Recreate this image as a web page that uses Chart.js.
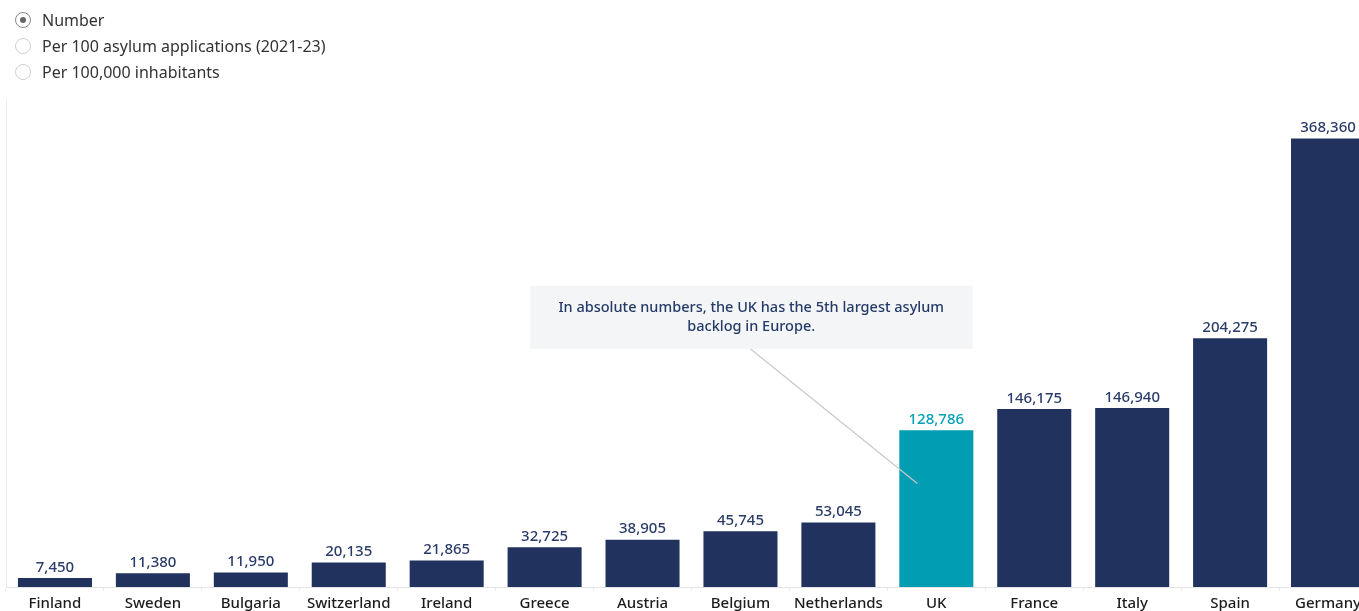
<!DOCTYPE html>
<html>
<head>
<meta charset="utf-8">
<script src="https://cdn.jsdelivr.net/npm/chart.js@4"></script>
<style>
  html, body { margin: 0; padding: 0; background: #fff; overflow: hidden; }
  #wrap { position: absolute; left: 0; top: 0; width: 1377px; height: 614px; }
  #controls { position: absolute; left: 15px; top: 7px; font-family: "Noto Sans", sans-serif; font-size: 16px; color: #333; z-index: 2; }
  .opt { height: 26px; display: flex; align-items: center; }
  .dot { width: 16px; height: 16px; border: 1px solid #cfcfcf; border-radius: 50%; box-sizing: border-box; margin-right: 11px; position: relative; }
  .dot.on { border-color: #888; }
  .dot.on::after { content: ""; position: absolute; left: 4px; top: 4px; width: 6px; height: 6px; border-radius: 50%; background: #666; }
</style>
</head>
<body>
<div id="controls">
  <div class="opt"><span class="dot on"></span>Number</div>
  <div class="opt"><span class="dot"></span>Per 100 asylum applications (2021-23)</div>
  <div class="opt"><span class="dot"></span>Per 100,000 inhabitants</div>
</div>
<div id="wrap"><canvas id="chart" width="1377" height="614"></canvas></div>
<script>
let countries = ["Finland", "Sweden", "Bulgaria", "Switzerland", "Ireland", "Greece", "Austria", "Belgium", "Netherlands", "UK", "France", "Italy", "Spain", "Germany"];
let backlog = [7450, 11380, 11950, 20135, 21865, 32725, 38905, 45745, 53045, 128786, 146175, 146940, 204275, 368360];
let note = ["In absolute numbers, the UK has the 5th largest asylum", "backlog in Europe."];

const navy = "#21325f";
const teal = "#009db3";

function barColours() {
    let arr = [];
    countries.forEach(c => {
        arr.push(c == "UK" ? teal : navy);
    });
    return arr;
}

// value labels above bars + the callout box
const extras = {
    id: "extras",
    afterDatasetsDraw(chart) {
        let ctx = chart.ctx;
        let meta = chart.getDatasetMeta(0);
        ctx.save();
        ctx.font = "500 15px 'Noto Sans', sans-serif";
        ctx.textAlign = "center";
        ctx.textBaseline = "bottom";
        meta.data.forEach((bar, i) => {
            ctx.fillStyle = countries[i] == "UK" ? "#00a0b6" : "#2a3c6a";
            ctx.fillText(backlog[i].toLocaleString("en-GB"), bar.x, bar.y - 3);
        });

        // callout
        let x = chart.scales.x;
        let y = chart.scales.y;
        let uk = countries.indexOf("UK");
        let left = x.getPixelForValue(4.85);
        let right = x.getPixelForValue(9.37);
        let top = y.getPixelForValue(247500);
        let bottom = y.getPixelForValue(195700);

        ctx.strokeStyle = "#c9c9c9";
        ctx.lineWidth = 1.2;
        ctx.beginPath();
        ctx.moveTo(x.getPixelForValue(7.1), bottom);
        ctx.lineTo(x.getPixelForValue(uk) - 19, y.getPixelForValue(85000));
        ctx.stroke();

        ctx.fillStyle = "#f4f5f6";
        ctx.fillRect(left, top, right - left, bottom - top);

        ctx.fillStyle = "#243a68";
        ctx.font = "500 14.5px 'Noto Sans', sans-serif";
        ctx.textBaseline = "middle";
        let cx = (left + right) / 2;
        ctx.fillText(note[0], cx, top + 22);
        ctx.fillText(note[1], cx, top + 41);
        ctx.restore();
    }
};

function createChart() {
    let ctx = document.getElementById("chart");
    new Chart(ctx, {
        type: "bar",
        data: {
            labels: countries,
            datasets: [{
                data: backlog,
                backgroundColor: barColours(),
                barPercentage: 0.756,
                categoryPercentage: 1
            }]
        },
        options: {
            responsive: false,
            animation: false,
            layout: { padding: { top: 100, left: 6, right: 0, bottom: -3 } },
            plugins: { legend: { display: false }, tooltip: { enabled: false } },
            scales: {
                x: {
                    grid: { drawOnChartArea: false, tickLength: 4, color: "#ececec" },
                    border: { color: "#e4e4e4" },
                    ticks: { color: "#1c1c1c", padding: 4, font: { size: 15, weight: "500", family: "'Noto Sans', sans-serif" }, maxRotation: 0, autoSkip: false }
                },
                y: {
                    min: 0,
                    max: 400000,
                    ticks: { display: false },
                    grid: { display: false, drawTicks: false },
                    border: { color: "#ececec" }
                }
            }
        },
        plugins: [extras]
    });
}

createChart();
</script>
</body>
</html>
